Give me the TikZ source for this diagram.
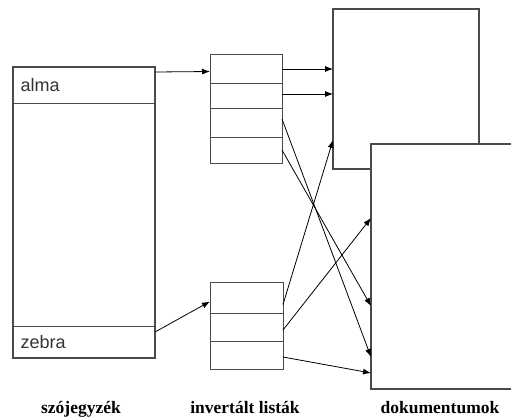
\documentclass[tikz,border=0pt]{standalone}
\usepackage{fontspec}
\setmainfont{Liberation Serif}
\newfontfamily\cellfont{Liberation Sans}
\usetikzlibrary{arrows.meta,calc}
\definecolor{boxline}{HTML}{4A4A4A}
\definecolor{cellink}{HTML}{333333}
\tikzset{
  box/.style={draw=boxline,line width=1.2pt,fill=white,inner sep=0pt,outer sep=0pt,anchor=north west},
  cell/.style={draw=boxline,line width=1pt,inner sep=0pt,outer sep=0pt,anchor=north west},
  word/.style={font=\cellfont\fontsize{18}{18}\selectfont,text=cellink,anchor=west},
  caption/.style={font=\bfseries\fontsize{17.5}{18}\selectfont,anchor=base},
  link/.style={draw=black,line width=0.8pt,-{Latex[length=8pt,width=6pt]}},
}
\begin{document}
\begin{tikzpicture}[x=1pt,y=-1pt]
\useasboundingbox (0,0) rectangle (511,418);
\clip (0,0) rectangle (511,418);

% vocabulary
\node[box,minimum width=142pt,minimum height=291pt] (voc) at (13,67) {};
\node[cell,minimum width=142pt,minimum height=36pt] (alma) at (13,67) {};
\node[cell,minimum width=142pt,minimum height=32pt] (zebra) at (13,326) {};
\node[word] at ($(alma.west)+(4,0)$) {alma};
\node[word] at ($(zebra.west)+(4,0)$) {zebra};

% inverted lists
\node[cell,minimum width=72pt,minimum height=29pt] (t1) at (210,54) {};
\node[cell,minimum width=72pt,minimum height=25pt] (t2) at (210,83) {};
\node[cell,minimum width=72pt,minimum height=29pt] (t3) at (210,108) {};
\node[cell,minimum width=72pt,minimum height=26pt] (t4) at (210,137) {};
\node[cell,minimum width=73pt,minimum height=31pt] (b1) at (210,282) {};
\node[cell,minimum width=73pt,minimum height=28pt] (b2) at (210,313) {};
\node[cell,minimum width=73pt,minimum height=28pt] (b3) at (210,341) {};

% documents
\node[box,minimum width=146pt,minimum height=160pt] (d1) at (333,9) {};
\node[box,minimum width=150pt,minimum height=245pt] (d2) at (371,144) {};

% entry points on the documents
\coordinate (d1a) at (d1.west |- 0,69);
\coordinate (d1b) at (d1.west |- 0,94);
\coordinate (d1c) at (d1.west |- 0,140);
\coordinate (d2a) at (d2.west |- 0,218);
\coordinate (d2b) at (d2.west |- 0,306);
\coordinate (d2c) at (d2.west |- 0,357);
\coordinate (d2d) at (d2.west |- 0,373);

% vocabulary -> lists
\draw[link] ($(alma.east)+(0,-13)$) -- ($(t1.west)+(0,3)$);
\draw[link] ($(zebra.east)+(0,-10)$) -- ($(b1.west)+(0,4)$);

% lists -> documents
\draw[link] ($(t1.east)+(0,0.5)$) -- (d1a);
\draw[link] ($(t2.east)+(0,-1.5)$) -- (d1b);
\draw[link] ($(t3.east)+(0,-3.5)$) -- (d2c);
\draw[link] (t4.east) -- (d2b);
\draw[link] ($(b1.east)+(0,7)$) -- (d1c);
\draw[link] ($(b2.east)+(0,3)$) -- (d2a);
\draw[link] ($(b3.east)+(0,2)$) -- (d2d);

% captions
\node[caption] (c1) at (81,413) {szójegyzék};
\node[caption] (c2) at (245,413) {invertált listák};
\node[caption] (c3) at (440,413) {dokumentumok};
\end{tikzpicture}
\end{document}
